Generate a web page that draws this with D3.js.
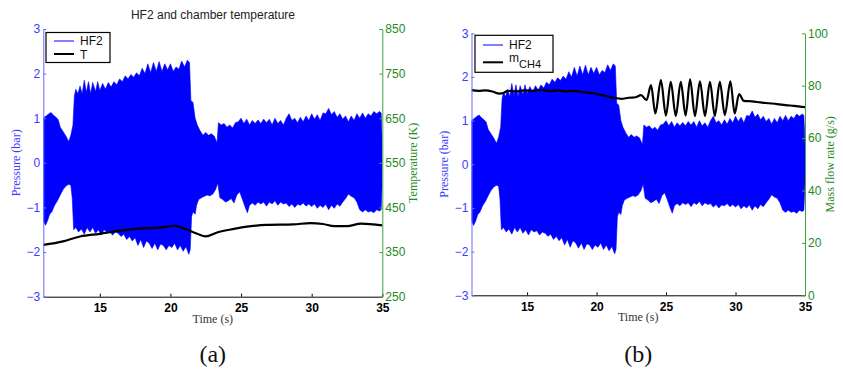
<!DOCTYPE html>
<html><head><meta charset="utf-8">
<script src="https://cdn.jsdelivr.net/npm/d3@7"></script>
<style>
html,body{margin:0;padding:0;background:#fff;}
svg{display:block;}
</style></head>
<body>
<svg id="chart" width="843" height="372"></svg>
<script>
// ---------------- DATA ----------------
const pressTicks = [-3, -2, -1, 0, 1, 2, 3];
const tempTicks = [250, 350, 450, 550, 650, 750, 850];
const flowTicks = [0, 20, 40, 60, 80, 100];
const timeTicks = [15, 20, 25, 30, 35];

// HF2 pressure envelope (bar) – upper
const hfUpTime = [11.0,11.2,11.4,11.55,11.7,11.9,12.05,12.2,12.4,12.6,12.8,12.95,13.1,13.2,13.3,13.45,13.6,13.75,13.9,14.05,14.2,14.35,14.5,14.7,14.85,15.0,15.2,15.4,15.6,15.8,16.0,16.2,16.4,16.6,16.8,17.0,17.2,17.4,17.6,17.8,18.0,18.2,18.4,18.6,18.8,19.0,19.2,19.4,19.6,19.8,20.0,20.2,20.4,20.6,20.8,21.0,21.2,21.35,21.45,21.6,21.75,21.9,22.1,22.3,22.5,22.7,22.9,23.1,23.3,23.4,23.6,23.8,24.0,24.2,24.4,24.6,24.8,25.0,25.2,25.4,25.6,25.8,26.0,26.2,26.4,26.6,26.8,27.0,27.2,27.4,27.6,27.8,28.0,28.2,28.4,28.6,28.8,29.0,29.2,29.4,29.6,29.8,30.0,30.2,30.4,30.6,30.8,31.0,31.2,31.4,31.6,31.8,32.0,32.2,32.4,32.6,32.8,33.0,33.2,33.4,33.6,33.8,34.0,34.2,34.4,34.6,34.8,34.92,35.0];
const hfUpVal = [1.00,1.05,1.10,1.13,1.07,1.02,0.97,0.80,0.70,0.60,0.48,0.62,0.85,1.50,1.65,1.55,1.72,1.55,1.85,1.58,1.82,1.55,1.80,1.60,1.82,1.62,1.78,1.65,1.80,1.70,1.82,1.75,1.88,1.82,1.95,1.88,1.98,1.92,2.02,1.95,2.12,2.00,2.22,2.02,2.25,2.05,2.27,2.05,2.22,2.08,2.22,2.05,2.15,2.10,2.28,2.15,2.30,2.25,1.40,1.35,1.00,0.85,0.72,0.62,0.68,0.62,0.65,0.60,0.45,0.90,0.85,0.88,0.80,0.85,0.78,0.90,0.92,1.00,0.88,0.98,0.85,0.95,0.88,0.96,0.88,0.98,0.90,0.98,0.85,1.00,0.88,0.95,0.85,1.00,1.10,0.95,1.00,0.90,1.02,0.92,1.05,0.95,1.10,0.98,1.08,0.95,1.12,1.10,1.22,1.08,1.15,1.02,1.10,0.98,1.05,0.92,1.05,0.95,1.10,1.00,1.12,1.00,1.10,1.05,1.15,1.10,1.15,1.12,0.45];
// HF2 pressure envelope (bar) – lower
const hfLoTime = [11.0,11.15,11.3,11.45,11.6,11.8,12.0,12.2,12.4,12.6,12.8,12.95,13.05,13.15,13.3,13.5,13.7,13.9,14.1,14.3,14.5,14.7,14.9,15.1,15.3,15.5,15.7,15.9,16.1,16.3,16.5,16.7,16.9,17.1,17.3,17.5,17.7,17.9,18.1,18.3,18.5,18.7,18.9,19.1,19.3,19.5,19.7,19.9,20.1,20.3,20.5,20.7,20.9,21.1,21.3,21.4,21.5,21.6,21.75,21.85,22.0,22.2,22.4,22.6,22.8,23.0,23.2,23.35,23.5,23.7,23.9,24.1,24.3,24.5,24.7,24.9,25.1,25.3,25.45,25.6,25.8,26.0,26.2,26.4,26.6,26.8,27.0,27.2,27.4,27.6,27.8,28.0,28.2,28.4,28.6,28.8,29.0,29.2,29.4,29.6,29.8,30.0,30.2,30.4,30.6,30.8,31.0,31.2,31.4,31.6,31.8,32.0,32.2,32.4,32.6,32.8,33.0,33.2,33.4,33.6,33.8,34.0,34.2,34.4,34.6,34.8,34.92,35.0];
const hfLoVal = [-1.30,-1.40,-1.30,-1.15,-1.10,-0.95,-0.85,-0.72,-0.60,-0.52,-0.48,-0.50,-0.80,-1.50,-1.45,-1.55,-1.48,-1.60,-1.45,-1.55,-1.45,-1.58,-1.50,-1.62,-1.50,-1.55,-1.52,-1.62,-1.55,-1.58,-1.65,-1.60,-1.72,-1.65,-1.75,-1.68,-1.85,-1.72,-1.90,-1.75,-1.80,-1.92,-1.80,-1.95,-1.82,-1.85,-1.95,-1.85,-1.90,-1.80,-1.95,-1.85,-1.98,-1.88,-2.05,-1.95,-1.20,-1.10,-1.15,-0.95,-0.82,-0.78,-0.75,-0.72,-0.74,-0.70,-0.60,-0.45,-0.78,-0.82,-0.88,-0.85,-0.80,-0.90,-0.72,-0.65,-0.82,-1.00,-1.12,-0.95,-0.90,-0.95,-0.88,-0.92,-0.88,-0.97,-0.88,-0.92,-0.85,-0.95,-0.88,-0.92,-0.90,-0.98,-0.92,-1.00,-0.93,-0.95,-0.90,-0.97,-0.92,-0.98,-0.92,-1.02,-0.95,-1.00,-0.93,-1.05,-0.95,-1.02,-0.92,-0.97,-0.88,-0.80,-0.70,-0.75,-0.78,-0.88,-1.05,-1.10,-1.05,-1.10,-1.08,-1.12,-1.05,-1.08,-1.05,-0.40];

// Chamber temperature T (K)
const tempTime = [11.0,12.4,13.6,15.0,16.4,17.85,19.3,20.3,21.2,21.9,22.5,23.3,24.5,25.7,26.8,28.7,29.9,30.8,31.6,32.5,33.5,35.0];
const tempVal = [366,374,385,391,398,403,405,409,400,391,385,394,402,408,411,412,415,413,408,408,414,410];

// CH4 mass flow rate (g/s)
const flowTime = [11.0,11.5,12.0,12.5,13.0,13.3,13.6,14.2,14.8,15.4,16.0,16.6,17.2,17.8,18.4,19.0,19.6,20.2,20.8,21.3,21.8,22.3,22.8,23.2,23.6,23.92,24.23,24.63,24.99,25.34,25.7,26.06,26.41,26.73,27.08,27.44,27.8,28.16,28.51,28.87,29.23,29.63,29.94,30.25,30.6,31.2,31.8,32.4,33.0,33.6,34.2,35.0];
const flowVal = [78.3,78.0,78.2,77.8,77.0,77.2,78.0,77.8,78.2,78.0,78.4,77.9,78.2,77.8,78.0,77.6,77.2,76.6,75.9,75.3,75.0,75.4,75.6,76.4,74.5,80.2,69.4,82.1,68.6,81.5,68.5,81.5,68.6,82.4,68.4,81.7,68.5,81.5,68.5,81.5,68.8,81.7,69.4,76.8,74.2,74.0,73.6,73.3,73.0,72.6,72.3,71.8];

// ---------------- DRAW ----------------
const svg = d3.select("#chart");
const BLUE = "#0000ff", AXBLUE = "#3b3bff", GREEN = "#1e8c1e", AXGREEN = "#3fa33f";
const SANS = "'Liberation Sans', Arial, Helvetica, sans-serif";
const SERIF = "'Liberation Serif', 'Times New Roman', serif";

function styleAxis(g, color, lineColor) {
  g.attr("font-family", SANS).attr("font-size", 12);
  g.select(".domain").attr("stroke", lineColor).attr("stroke-width", 1);
  g.selectAll(".tick line").attr("stroke", lineColor).attr("stroke-width", 1);
  g.selectAll(".tick text").attr("fill", color);
}

function panel(cfg) {
  const x = d3.scaleLinear().domain([11, 35]).range([cfg.x0, cfg.x1]);
  const y = d3.scaleLinear().domain([-3, 3]).range([cfg.y1, cfg.y0]);
  const y2 = d3.scaleLinear().domain(cfg.y2dom).range([cfg.y1, cfg.y0]);
  const clipId = "clip" + cfg.id;
  svg.append("clipPath").attr("id", clipId).append("rect")
    .attr("x", cfg.x0).attr("y", cfg.y0).attr("width", cfg.x1 - cfg.x0).attr("height", cfg.y1 - cfg.y0);

  const g = svg.append("g").attr("clip-path", `url(#${clipId})`);
  // HF2 envelope
  const poly = hfUpTime.map((t, i) => [t, hfUpVal[i]])
    .concat(hfLoTime.map((t, i) => [t, hfLoVal[i]]).reverse());
  const ln = d3.line().x(d => x(d[0])).y(d => y(d[1]));
  g.append("path").attr("d", ln(poly) + "Z")
    .attr("fill", BLUE).attr("stroke", BLUE).attr("stroke-width", 0.6);
  // secondary series
  const sec = cfg.secT.map((t, i) => [t, cfg.secV[i]]);
  g.append("path").attr("d", d3.line().curve(d3.curveMonotoneX).x(d => x(d[0])).y(d => y2(d[1]))(sec))
    .attr("fill", "none").attr("stroke", "#000").attr("stroke-width", 2.2).attr("stroke-linejoin", "round");

  // axes
  const ax = svg.append("g").attr("transform", `translate(0,${cfg.y1})`)
    .call(d3.axisBottom(x).tickValues(timeTicks).tickSizeInner(-3).tickSizeOuter(0).tickPadding(5).tickFormat(d3.format("d")));
  styleAxis(ax, "#000", "#000");
  ax.selectAll(".tick text").attr("font-weight", "bold").attr("dy", "0.9em");

  const ayl = svg.append("g").attr("transform", `translate(${cfg.x0},0)`)
    .call(d3.axisLeft(y).tickValues(pressTicks).tickSizeInner(-3).tickSizeOuter(0).tickPadding(3).tickFormat(d3.format("d")));
  styleAxis(ayl, AXBLUE, "#6a6aff");

  const ayr = svg.append("g").attr("transform", `translate(${cfg.x1},0)`)
    .call(d3.axisRight(y2).tickValues(cfg.y2ticks).tickSizeInner(-3).tickSizeOuter(0).tickPadding(3).tickFormat(d3.format("d")));
  styleAxis(ayr, GREEN, AXGREEN);

  // axis titles
  const midY = (cfg.y0 + cfg.y1) / 2;
  svg.append("text").attr("transform", `translate(${cfg.x0 - cfg.l2off},${midY}) rotate(-90)`)
    .attr("text-anchor", "middle").attr("font-family", SERIF).attr("font-size", 12)
    .attr("fill", AXBLUE).text("Pressure (bar)");
  svg.append("text").attr("transform", `translate(${cfg.x1 + cfg.r2off},${midY}) rotate(-90)`)
    .attr("text-anchor", "middle").attr("font-family", SERIF).attr("font-size", 12)
    .attr("fill", GREEN).text(cfg.y2label);
  svg.append("text").attr("x", (cfg.x0 + cfg.x1) / 2).attr("y", cfg.y1 + 26)
    .attr("text-anchor", "middle").attr("font-family", SERIF).attr("font-size", 12)
    .attr("fill", "#333").text("Time (s)");
  svg.append("text").attr("x", (cfg.x0 + cfg.x1) / 2).attr("y", 362)
    .attr("text-anchor", "middle").attr("font-family", SERIF).attr("font-size", 24)
    .attr("fill", "#111").text(cfg.caption);

  // legend
  const L = cfg.leg;
  const lg = svg.append("g");
  lg.append("rect").attr("x", L.x).attr("y", L.y).attr("width", L.w).attr("height", L.h)
    .attr("fill", "#fff").attr("stroke", "#000").attr("stroke-width", 1.2);
  lg.append("line").attr("x1", L.x + 8).attr("x2", L.x + 28).attr("y1", L.l1).attr("y2", L.l1)
    .attr("stroke", BLUE).attr("stroke-width", 1);
  lg.append("text").attr("x", L.x + 34).attr("y", L.l1 + 4.3).attr("font-family", SANS).attr("font-size", 12)
    .attr("fill", "#111").text("HF2");
  lg.append("line").attr("x1", L.x + 8).attr("x2", L.x + 28).attr("y1", L.l2).attr("y2", L.l2)
    .attr("stroke", "#000").attr("stroke-width", 2);
  const t2 = lg.append("text").attr("x", L.x + 34).attr("y", L.t2y).attr("font-family", SANS).attr("font-size", 12)
    .attr("fill", "#111");
  if (cfg.id === "a") {
    t2.text("T");
  } else {
    t2.append("tspan").text("m");
    t2.append("tspan").attr("dy", 6).attr("font-size", 11).text("CH4");
  }
}

panel({
  id: "a", x0: 43.3, x1: 382.3, y0: 29, y1: 296.7,
  y2dom: [250, 850], y2ticks: tempTicks, y2label: "Temperature (K)", r2off: 35, l2off: 23,
  secT: tempTime, secV: tempVal, caption: "(a)",
  leg: { x: 46, y: 32.5, w: 64, h: 30, l1: 41, l2: 54, t2y: 58.5 }
});
panel({
  id: "b", x0: 471.5, x1: 805, y0: 33.3, y1: 295.3,
  y2dom: [0, 100], y2ticks: flowTicks, y2label: "Mass flow rate (g/s)", r2off: 29, l2off: 24,
  secT: flowTime, secV: flowVal, caption: "(b)",
  leg: { x: 475, y: 35.3, w: 78, h: 37, l1: 45, l2: 62.3, t2y: 62 }
});

svg.append("text").attr("x", 213).attr("y", 19).attr("text-anchor", "middle")
  .attr("font-family", SANS).attr("font-size", 12).attr("fill", "#222")
  .text("HF2 and chamber temperature");
</script>
</body></html>
